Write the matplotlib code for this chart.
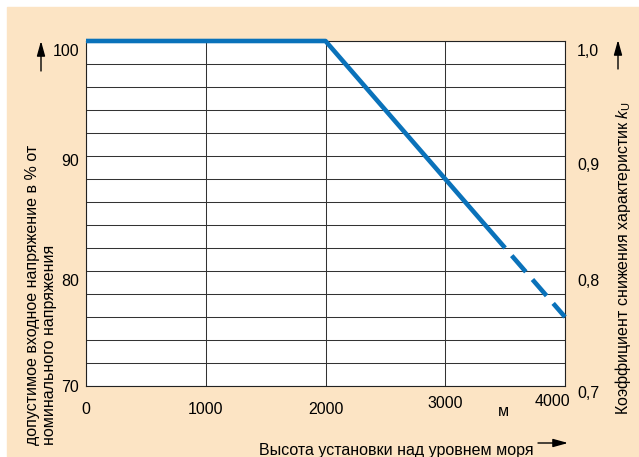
import numpy as np
import matplotlib
matplotlib.use('Agg')
import matplotlib.pyplot as plt
from matplotlib.patches import Rectangle

plt.rcParams['font.family'] = ['Liberation Sans', 'DejaVu Sans']
plt.rcParams['mathtext.fontset'] = 'custom'
plt.rcParams['mathtext.it'] = 'Liberation Sans:italic'
plt.rcParams['mathtext.rm'] = 'Liberation Sans'

# высота (м) -> допустимое напряжение (%)
alt_solid = [0, 2000, 3500]
volt_solid = [100, 100, 82]
alt_dash = [3500, 4000]
volt_dash = [82, 76]

x_ticks = [0, 1000, 2000, 3000, 4000]
x_labels = ['0', '1000', '2000', '3000', '4000']
y_ticks = [70, 80, 90, 100]
y_labels = ['70', '80', '90', '100']
k_labels = ['0,7', '0,8', '0,9', '1,0']
grid_y = [70, 72, 74, 76, 78, 80, 82, 84, 86, 88, 90, 92, 94, 96, 98, 100]
grid_x = [0, 1000, 2000, 3000, 4000]

W, H = 639, 457
BLUE = '#0A72BA'
BEIGE = '#FCE4C4'
FS = 11.5

fig = plt.figure(figsize=(W / 100, H / 100), dpi=100, facecolor='white')
fig.patches.append(Rectangle((7 / W, 0), 1, 1 - 7 / H, transform=fig.transFigure,
                             color=BEIGE, zorder=-1))

ax = fig.add_axes([86 / W, 1 - 386 / H, (565 - 86) / W, (386 - 41) / H])
ax.set_facecolor('white')
ax.set_xlim(0, 4000)
ax.set_ylim(70, 100)
ax.set_xticks(grid_x)
ax.set_yticks(grid_y)
ax.tick_params(length=0, labelleft=False, labelbottom=False)
ax.grid(True, color='#333333', lw=0.75)
for s in ax.spines.values():
    s.set_color('#222222')
    s.set_linewidth(0.8)

ax.plot(alt_solid, volt_solid, color=BLUE, lw=3.3, clip_on=False,
        solid_capstyle='butt', zorder=5)
ax.plot(alt_dash, volt_dash, color=BLUE, lw=3.3, clip_on=False,
        linestyle=(4.7, (4.7, 2.2)), zorder=5)

# подписи осей (смещения в пикселях)
x_off = {0: (0, -23), 1000: (0, -23), 2000: (0, -23), 3000: (0, -18), 4000: (-13, -16)}
for v, lbl in zip(x_ticks, x_labels):
    dx, dy = x_off[v]
    ax.annotate(lbl, xy=(v, 70), xytext=(dx, dy), textcoords='offset pixels',
                ha='center', va='center', fontsize=FS, annotation_clip=False)

y_off = {70: -1, 80: -10, 90: -6, 100: -10}
for v, lbl in zip(y_ticks, y_labels):
    ax.annotate(lbl, xy=(0, v), xytext=(-7, y_off[v]), textcoords='offset pixels',
                ha='right', va='center', fontsize=FS, annotation_clip=False)

k_off = {70: -7, 80: -11, 90: -10, 100: -11}
for v, lbl in zip(y_ticks, k_labels):
    ax.annotate(lbl, xy=(4000, v), xytext=(23, k_off[v]), textcoords='offset pixels',
                ha='center', va='center', fontsize=FS, annotation_clip=False)

fig.text(503 / W, 1 - 411 / H, 'м', ha='center', va='center', fontsize=FS)

fig.text(41 / W, 12 / H, 'допустимое входное напряжение в % от\nноминального напряжения',
         rotation=90, ha='center', va='bottom', multialignment='left',
         fontsize=FS, linespacing=1.15)
fig.text(623 / W, 42 / H, r'Коэффициент снижения характеристик $k_\mathrm{U}$',
         rotation=90, ha='center', va='bottom', fontsize=FS)
fig.text(396 / W, 2 / H, 'Высота установки над уровнем моря',
         ha='center', va='baseline', fontsize=FS)

# стрелки
arrow = dict(arrowstyle='-|>,head_length=0.9,head_width=0.25', color='black', lw=1,
             shrinkA=0, shrinkB=0)
fig.add_artist(plt.Annotation('', xy=(41, H - 41), xytext=(41, H - 71),
                              xycoords='figure pixels', arrowprops=arrow))
fig.add_artist(plt.Annotation('', xy=(618, H - 40), xytext=(618, H - 69),
                              xycoords='figure pixels', arrowprops=arrow))
fig.add_artist(plt.Annotation('', xy=(568, H - 443), xytext=(538, H - 443),
                              xycoords='figure pixels', arrowprops=arrow))

fig.savefig('out.png', dpi=100)
